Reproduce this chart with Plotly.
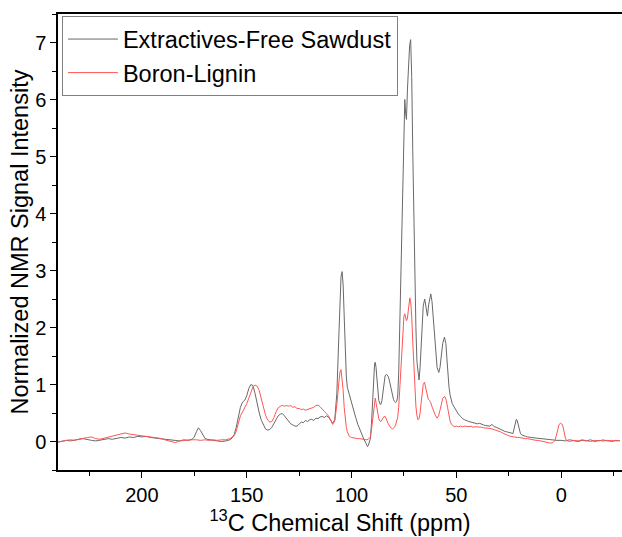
import plotly.graph_objects as go

# ---- Extractives-Free Sawdust (gray) ----
gray_ppm = [240, 238, 236, 234, 232, 230, 228, 226, 224, 222, 220, 218, 216, 214, 212, 210, 208, 206, 204, 202,
            200, 198, 196, 194, 192, 190, 188, 186, 184, 182, 180, 178, 176, 175, 174, 173, 172, 171, 170, 169,
            168, 166, 164, 162, 160, 158, 157, 156, 155, 154, 153, 152, 151, 150, 149, 148, 147, 146, 145, 144,
            143, 142, 141, 140, 139, 138, 137, 136, 135, 134, 133, 132, 131, 130, 129, 128, 127, 126, 125, 124,
            123, 122, 121, 120, 119, 118, 117, 116, 115, 114, 113, 112, 111, 110, 109, 108, 107, 106, 105.5, 105,
            104.5, 104, 103.5, 103, 102.5, 102, 101.5, 101, 100, 99, 98, 97, 96, 95, 94, 93, 92.4, 92, 91, 90.5,
            90, 89.5, 89, 88.7, 88.3, 88, 87.5, 87, 86.5, 86, 85.5, 85, 84.5, 84, 83.3, 82.5, 82, 81.5, 81, 80.5,
            80, 79.5, 79, 78.5, 78, 77.5, 77, 76.5, 76, 75.5, 75, 74.6, 74.2, 73.8, 73.3, 72.8, 72.3, 71.8, 71.3, 70.8,
            70.3, 69.8, 69.3, 68.8, 68.2, 67.8, 67.3, 66.8, 66.3, 65.8, 65.1, 64.5, 63.8, 63.2, 62.6, 62.2, 61.6, 61, 60.4, 59.8,
            59.2, 58.4, 57.8, 57.2, 56.5, 55.7, 55, 54.5, 54, 53.5, 53, 52.5, 52, 51.3, 50.5, 50, 49, 48, 47, 46,
            45, 44, 43, 42, 41, 40, 39, 38, 37, 36, 35, 34, 33, 32, 31, 30, 29, 28, 27, 26,
            25, 24, 23, 22.5, 22, 21.4, 21, 20.5, 20, 19.5, 19, 18, 17, 16, 15, 14, 12, 10, 8, 6,
            4, 2, 0, -2, -4, -6, -8, -10, -12, -14, -16, -18, -20, -22, -24, -26, -28]
gray_int = [-0.01, 0.00, 0.02, 0.01, 0.03, 0.04, 0.05, 0.03, 0.02, 0.01, 0.02, 0.03, 0.05, 0.04, 0.06, 0.07, 0.06, 0.08, 0.07, 0.09,
            0.08, 0.09, 0.07, 0.06, 0.05, 0.04, 0.03, 0.03, 0.02, 0.01, 0.03, 0.02, 0.04, 0.08, 0.17, 0.24, 0.19, 0.11, 0.06, 0.04,
            0.03, 0.02, 0.01, 0.00, 0.01, 0.03, 0.06, 0.12, 0.25, 0.42, 0.60, 0.69, 0.72, 0.80, 0.93, 1.00, 0.98, 0.84, 0.66, 0.50,
            0.37, 0.28, 0.22, 0.20, 0.21, 0.25, 0.31, 0.38, 0.45, 0.48, 0.49, 0.45, 0.40, 0.35, 0.31, 0.29, 0.27, 0.27, 0.31, 0.34,
            0.33, 0.37, 0.35, 0.38, 0.39, 0.37, 0.41, 0.40, 0.43, 0.44, 0.42, 0.45, 0.43, 0.37, 0.32, 0.38, 0.85, 1.90, 2.60, 2.90,
            2.98, 2.75, 2.20, 1.60, 1.15, 0.95, 0.88, 0.80, 0.70, 0.55, 0.42, 0.30, 0.20, 0.10, 0.03, -0.04, -0.09, -0.07, 0.05, 0.30,
            0.70, 1.15, 1.36, 1.39, 1.30, 1.15, 0.90, 0.72, 0.66, 0.65, 0.72, 0.88, 1.05, 1.15, 1.18, 1.14, 1.08, 0.98, 0.90, 0.80,
            0.74, 0.70, 0.68, 0.70, 0.78, 1.20, 2.00, 3.00, 4.00, 5.00, 5.70, 6.00, 5.75, 5.65, 6.20, 6.70, 6.95, 7.05, 6.40, 5.10,
            3.90, 2.90, 2.00, 1.40, 1.10, 1.08, 1.30, 1.70, 2.10, 2.38, 2.50, 2.35, 2.20, 2.40, 2.55, 2.59, 2.45, 2.15, 1.80, 1.50,
            1.30, 1.21, 1.30, 1.50, 1.72, 1.83, 1.72, 1.45, 1.15, 0.95, 0.82, 0.73, 0.67, 0.62, 0.57, 0.53, 0.48, 0.44, 0.40, 0.38,
            0.36, 0.35, 0.34, 0.33, 0.32, 0.31, 0.32, 0.30, 0.29, 0.28, 0.28, 0.27, 0.30, 0.26, 0.25, 0.23, 0.21, 0.19, 0.18, 0.17,
            0.16, 0.15, 0.14, 0.22, 0.33, 0.39, 0.37, 0.28, 0.20, 0.15, 0.12, 0.10, 0.09, 0.08, 0.08, 0.07, 0.06, 0.05, 0.04, 0.03,
            0.03, 0.02, 0.02, 0.01, 0.03, 0.02, 0.00, 0.02, 0.01, 0.03, 0.00, 0.02, 0.01, 0.02, 0.00, 0.02, 0.01]

# ---- Boron-Lignin (red) ----
red_ppm = [240, 238, 236, 234, 232, 230, 228, 226, 224, 222, 220, 218, 216, 214, 212, 210, 208, 206, 204, 202,
           200, 198, 196, 194, 192, 190, 188, 186, 184, 182, 180, 178, 176, 174, 172, 170, 168, 166, 164, 162,
           160, 158, 157, 156, 155, 154, 153, 152, 151, 150, 149, 148, 147, 146, 145, 144, 143, 142, 141, 140,
           139, 138, 137, 136, 135, 134, 133, 132, 131, 130, 129, 128, 127, 126, 125, 124, 123, 122, 121, 120,
           119, 118, 117, 116, 115, 114, 113, 112, 111, 110, 109, 108, 107, 106, 105.5, 105, 104.5, 104, 103.5, 103,
           102.5, 102, 101.5, 101, 100, 99, 98, 97, 96, 95, 94, 93, 92, 91, 90.5, 90, 89.5, 89, 88.7, 88.3,
           88, 87.5, 87, 86.5, 86, 85.5, 85, 84.5, 84, 83.5, 83, 82.5, 82, 81.5, 81, 80.5, 80, 79.5, 79, 78.5,
           78, 77.5, 77, 76.5, 76, 75.5, 75, 74.6, 74.2, 73.8, 73.4, 73, 72.6, 72.2, 71.8, 71.3, 70.8, 70.3, 69.8, 69.3,
           68.8, 68.3, 67.8, 67.3, 66.8, 66.3, 65.8, 65.2, 64.6, 64, 63.4, 62.8, 62.2, 61.5, 60.8, 60, 59.2, 58.5, 57.8, 57.2,
           56.5, 55.5, 54.8, 54.2, 53.6, 53, 52.3, 51.6, 51, 50, 49, 48, 47, 46, 45, 44, 43, 42, 41, 40,
           39, 38, 37, 36, 35, 34, 33, 32, 31, 30, 29, 28, 27, 26, 25, 24, 23, 22, 21, 20,
           19, 18, 17, 16, 15, 14, 13, 12, 11, 10, 9, 8, 7, 6, 5, 4, 3, 2.5, 2, 1.5,
           1, 0.3, -0.5, -1, -1.5, -2, -2.5, -3, -4, -6, -8, -10, -12, -14, -16, -18, -20, -22, -24, -26, -28]
red_int = [-0.01, 0.01, 0.02, 0.03, 0.02, 0.04, 0.06, 0.07, 0.08, 0.05, 0.04, 0.06, 0.08, 0.09, 0.11, 0.13, 0.15, 0.13, 0.12, 0.12,
           0.11, 0.10, 0.09, 0.08, 0.06, 0.04, 0.02, 0.00, -0.02, 0.01, 0.02, 0.02, 0.03, 0.03, 0.02, 0.03, 0.02, 0.03, 0.02, 0.03,
           0.03, 0.05, 0.07, 0.10, 0.18, 0.30, 0.45, 0.52, 0.58, 0.66, 0.76, 0.88, 0.96, 0.99, 0.97, 0.89, 0.74, 0.57, 0.46, 0.38,
           0.34, 0.35, 0.42, 0.52, 0.59, 0.62, 0.63, 0.62, 0.63, 0.62, 0.63, 0.60, 0.61, 0.58, 0.58, 0.56, 0.57, 0.55, 0.56, 0.57,
           0.58, 0.60, 0.63, 0.64, 0.61, 0.56, 0.53, 0.49, 0.45, 0.38, 0.30, 0.36, 0.65, 1.05, 1.22, 1.26, 1.12, 0.90, 0.60, 0.38,
           0.25, 0.17, 0.12, 0.09, 0.07, 0.06, 0.06, 0.05, 0.05, 0.04, 0.03, 0.03, 0.04, 0.08, 0.20, 0.38, 0.60, 0.74, 0.76, 0.68,
           0.60, 0.47, 0.40, 0.36, 0.35, 0.38, 0.41, 0.44, 0.44, 0.41, 0.36, 0.31, 0.28, 0.25, 0.23, 0.22, 0.23, 0.25, 0.29, 0.35,
           0.42, 0.60, 0.92, 1.35, 1.75, 2.05, 2.20, 2.24, 2.17, 2.12, 2.15, 2.30, 2.45, 2.52, 2.45, 2.20, 1.75, 1.30, 0.90, 0.62,
           0.45, 0.38, 0.40, 0.50, 0.68, 0.88, 1.00, 1.04, 0.92, 0.80, 0.74, 0.72, 0.68, 0.60, 0.52, 0.46, 0.41, 0.45, 0.55, 0.67,
           0.76, 0.79, 0.72, 0.60, 0.46, 0.36, 0.30, 0.27, 0.26, 0.27, 0.26, 0.27, 0.26, 0.27, 0.26, 0.26, 0.27, 0.25, 0.26, 0.26,
           0.25, 0.25, 0.24, 0.24, 0.23, 0.23, 0.22, 0.21, 0.20, 0.18, 0.17, 0.15, 0.13, 0.12, 0.10, 0.09, 0.08, 0.08, 0.07, 0.07,
           0.06, 0.06, 0.05, 0.05, 0.04, 0.04, 0.03, 0.02, 0.02, 0.01, 0.01, 0.00, -0.01, -0.02, -0.03, -0.02, 0.02, 0.08, 0.16, 0.25,
           0.30, 0.32, 0.30, 0.24, 0.14, 0.06, 0.02, 0.01, 0.00, 0.02, 0.01, 0.03, 0.02, 0.00, 0.02, 0.01, 0.03, 0.01, 0.02, 0.01, 0.02]

series_names = ["Extractives-Free Sawdust", "Boron-Lignin"]
x_ticks = [200, 150, 100, 50, 0]
y_ticks = [0, 1, 2, 3, 4, 5, 6, 7]

FONT = "Liberation Sans, Arial, sans-serif"

fig = go.Figure()
fig.add_trace(go.Scatter(x=gray_ppm, y=gray_int, mode="lines", name=series_names[0],
                         line=dict(color="rgb(105,105,105)", width=1)))
fig.add_trace(go.Scatter(x=red_ppm, y=red_int, mode="lines", name=series_names[1],
                         line=dict(color="rgb(255,85,85)", width=1)))

fig.update_layout(
    width=622, height=537,
    margin=dict(l=58, r=0, t=14, b=67, autoexpand=False),
    paper_bgcolor="white", plot_bgcolor="white",
    font=dict(family=FONT, color="black", size=20),
    showlegend=True,
    legend=dict(x=0.007, y=0.995, xanchor="left", yanchor="top",
                bgcolor="white", bordercolor="rgb(128,128,128)", borderwidth=1,
                font=dict(family=FONT, size=23.5, color="black"),
                itemwidth=50, tracegroupgap=0),
    xaxis=dict(range=[240, -29], tickvals=x_ticks, ticks="outside", ticklen=6, tickwidth=1.3,
               tickcolor="black", showline=True, linecolor="black", linewidth=1.5, mirror=True,
               showgrid=False, zeroline=False,
               minor=dict(dtick=25, tick0=0, ticks="outside", ticklen=4, tickcolor="black", showgrid=False),
               tickfont=dict(size=20),
               title=dict(text="<sup>13</sup>C Chemical Shift (ppm)", font=dict(size=23.5), standoff=10)),
    yaxis=dict(range=[-0.5, 7.5], tickvals=y_ticks, ticks="outside", ticklen=6, tickwidth=1.3,
               tickcolor="black", showline=True, linecolor="black", linewidth=1.5, mirror=False,
               showgrid=False, zeroline=False,
               minor=dict(dtick=0.5, tick0=0, ticks="outside", ticklen=4, tickcolor="black", showgrid=False),
               tickfont=dict(size=20),
               title=dict(text="Normalized NMR Signal Intensity", font=dict(size=23.5), standoff=0)),
)

fig.write_html("out.html", config={"displayModeBar": False},
               post_script="document.body.style.margin='0';document.body.style.overflow='hidden';")
